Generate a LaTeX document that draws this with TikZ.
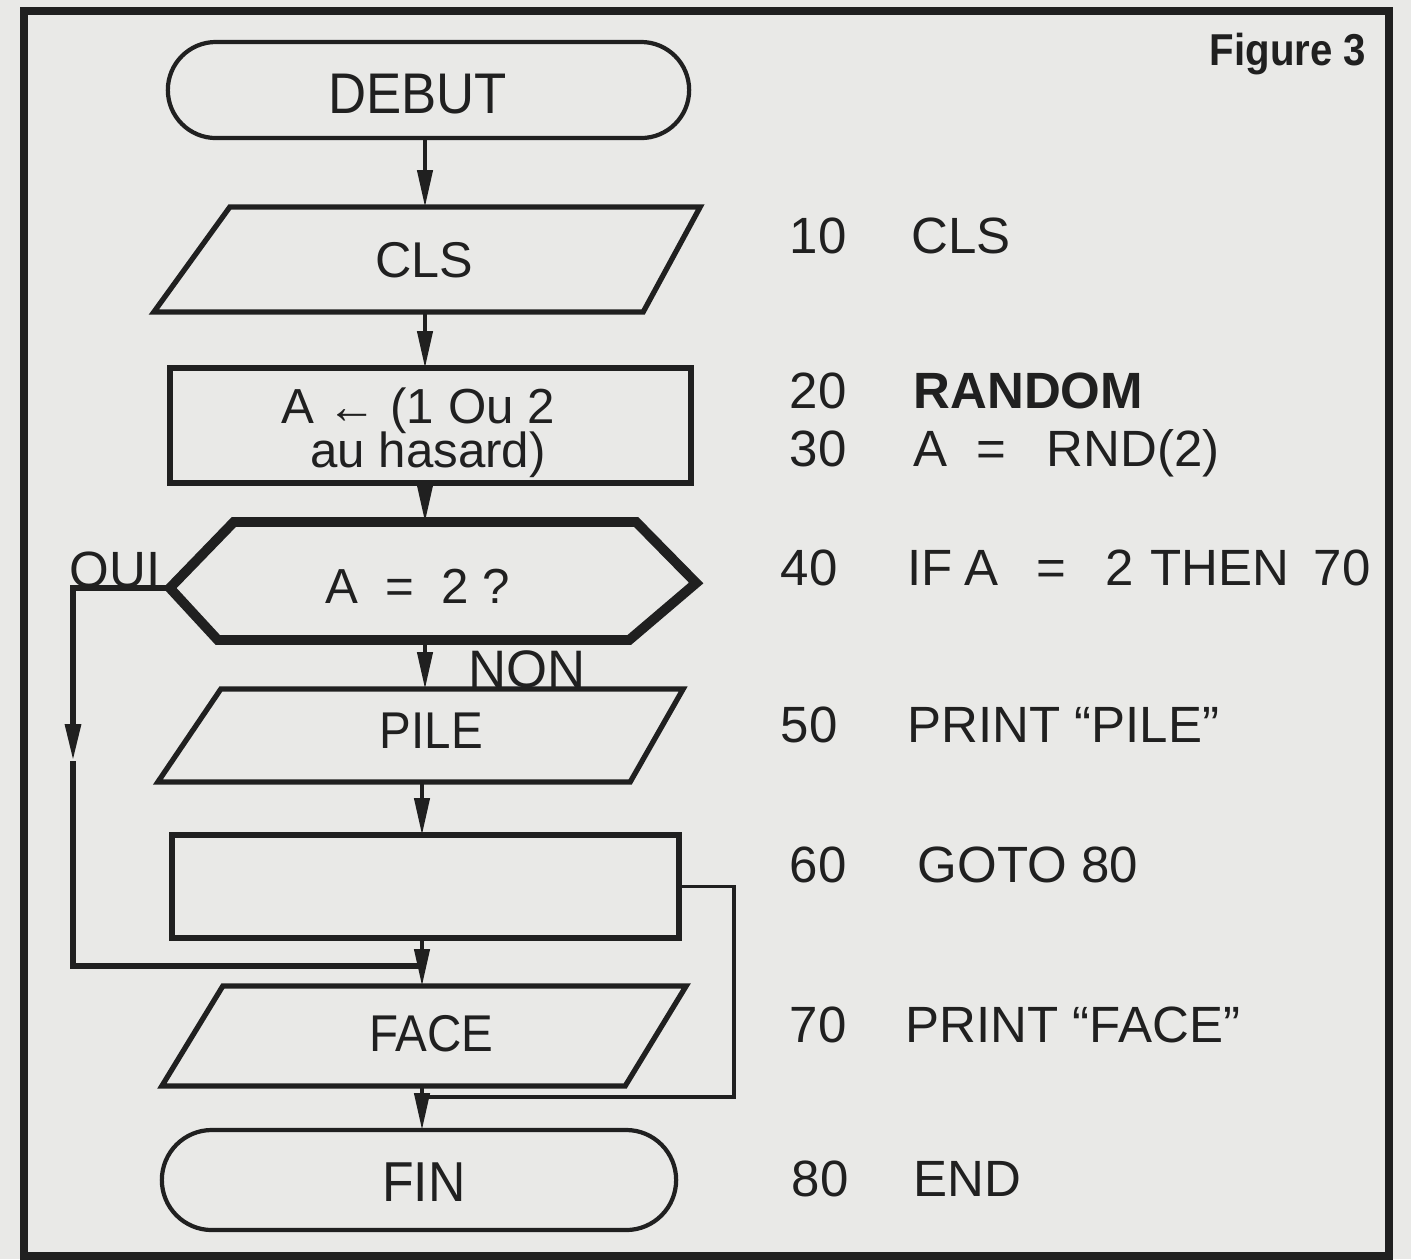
\documentclass[tikz,border=0pt]{standalone}
\usepackage{fontspec}
\setmainfont{Liberation Sans}
\newfontfamily\narrowfont{Liberation Sans}[FakeStretch=0.92]
\newfontfamily\figfont{Liberation Sans}[FakeStretch=0.9]
\usetikzlibrary{shapes.misc,arrows.meta,calc}
\definecolor{paper}{RGB}{233,233,231}
\definecolor{ink}{RGB}{32,32,32}
\begin{document}
\begin{tikzpicture}[x=0.01cm,y=-0.01cm,
  conn/.style={draw=ink,line width=1.1pt,line join=miter},
  ouiline/.style={line width=1.6pt},
  arrowend/.style={-{Triangle[length=10.5pt,width=4.3pt]}},
  slot/.style={rectangle,draw=none,inner sep=0pt,outer sep=0pt},
  term/.style={rounded rectangle,draw=ink,line width=1.2pt,inner sep=0pt,outer sep=0pt},
  procbox/.style={rectangle,draw=ink,line width=1.6pt,inner sep=0pt,outer sep=0pt},
  shapeline/.style={draw=ink,line width=1.5pt,line join=miter},
  fltxt/.style={anchor=base,inner sep=0pt,text=ink},
  codetxt/.style={anchor=base west,inner sep=0pt,text=ink,font=\fontsize{14.5}{17}\selectfont},
]
\fill[paper] (0,0) rectangle (1411,1259);
\useasboundingbox (0,0) rectangle (1411,1259);
\draw[ink,line width=2.3pt] (24,11) rectangle (1389,1256);

\node[fltxt,anchor=base east,font=\figfont\bfseries\fontsize{12.7}{15}\selectfont] (fig) at (1367,65) {Figure 3};

\coordinate (cx1) at (425,0);
\coordinate (cx2) at (422,0);

% DEBUT
\node[term,minimum width=5.21cm,minimum height=0.96cm] (debut) at (428.5,90) {};
\node[fltxt,font=\narrowfont\fontsize{16.3}{19}\selectfont] (tdebut) at (417.5,113) {DEBUT};

% CLS
\node[slot,minimum width=5.46cm,minimum height=1.05cm] (cls) at (427,259.5) {};
\draw[shapeline] ($(cls.north west)+(76,0)$) -- (cls.north east) -- ($(cls.south east)+(-57,0)$) -- (cls.south west) -- cycle;
\node[fltxt,font=\fontsize{14.3}{17}\selectfont] (tcls) at (424.5,277) {CLS};

% assignment
\node[procbox,minimum width=5.21cm,minimum height=1.15cm] (assign) at (430.5,425.5) {};
\node[fltxt,font=\fontsize{14}{17}\selectfont] (tassign1) at (418,423) {A\ ←\ (1\ Ou\ 2};
\node[fltxt,font=\fontsize{14}{17}\selectfont] (tassign2) at (428,467) {au hasard)};

% decision
\node[slot,minimum width=5.26cm,minimum height=1.18cm] (dec) at (433,581) {};
\coordinate (decL) at ($(dec.west)+(0,7)$);
\draw[shapeline,line width=2.8pt] ($(dec.north west)+(64,0)$) -- ($(dec.north east)+(-60,0)$) -- ($(dec.east)+(0,2)$) -- ($(dec.south east)+(-67,0)$) -- ($(dec.south west)+(48,0)$) -- (decL) -- cycle;
\node[fltxt,font=\fontsize{14}{17}\selectfont] (tdec) at (417.5,603) {A\ \ =\ \ 2 ?};

\node[fltxt,anchor=base west,font=\fontsize{14.5}{17}\selectfont] (oui) at (69,587) {OUI};
\node[fltxt,anchor=base west,font=\fontsize{15}{18}\selectfont] (non) at (468,687) {NON};

% PILE
\node[slot,minimum width=5.25cm,minimum height=0.93cm] (pile) at (420.5,735.5) {};
\draw[shapeline] ($(pile.north west)+(63,0)$) -- (pile.north east) -- ($(pile.south east)+(-53,0)$) -- (pile.south west) -- cycle;
\node[fltxt,font=\narrowfont\fontsize{14.7}{17}\selectfont] (tpile) at (431.5,748) {PILE};

% empty box (GOTO)
\node[procbox,minimum width=5.07cm,minimum height=1.03cm] (goto) at (425.5,886.5) {};

% FACE
\node[slot,minimum width=5.24cm,minimum height=1.0cm] (face) at (424,1036) {};
\draw[shapeline] ($(face.north west)+(61,0)$) -- (face.north east) -- ($(face.south east)+(-61,0)$) -- (face.south west) -- cycle;
\node[fltxt,font=\narrowfont\fontsize{14.7}{17}\selectfont] (tface) at (431.5,1051) {FACE};

% FIN
\node[term,minimum width=5.14cm,minimum height=1.0cm] (fin) at (419,1180) {};
\node[fltxt,font=\narrowfont\fontsize{16}{19}\selectfont] (tfin) at (424,1201) {FIN};

% connectors
\draw[conn,arrowend] (debut.south -| cx1) -- (cls.north -| cx1);
\draw[conn,arrowend] (cls.south -| cx1) -- (assign.north -| cx1);
\draw[conn,arrowend] (assign.south -| cx1) -- (dec.north -| cx1);
\draw[conn,arrowend] (dec.south -| cx1) -- (pile.north -| cx1);
\draw[conn,arrowend] (pile.south -| cx2) -- (goto.north -| cx2);
\draw[conn,arrowend] (goto.south -| cx2) -- (face.north -| cx2);
\draw[conn,arrowend] (face.south -| cx2) -- (fin.north -| cx2);

% OUI branch
\coordinate (ouiX) at (73,0);
\coordinate (ouiY) at (0,966);
\coordinate (ouiMid) at (73,761);
\draw[conn,ouiline,arrowend] (decL) -- (decL -| ouiX) -- (ouiMid);
\draw[conn,ouiline] (ouiMid) -- (ouiX |- ouiY) -- (cx2 |- ouiY);

% GOTO branch
\coordinate (gotoX) at (734,0);
\coordinate (gotoY) at (0,1097);
\draw[conn] (goto.east) -- (goto.east -| gotoX) -- (gotoX |- gotoY) -- (cx2 |- gotoY);

% BASIC listing
\node[codetxt] (n10) at (789,253) {10};
\node[codetxt] (s10) at (911,253) {CLS};
\node[codetxt] (n20) at (789,408) {20};
\node[codetxt,font=\bfseries\fontsize{14.5}{17}\selectfont] (s20) at (913,408) {RANDOM};
\node[codetxt] (n30) at (789,466) {30};
\node[codetxt] (s30a) at (913,466) {A};
\node[codetxt] (s30b) at (976,466) {=};
\node[codetxt] (s30c) at (1046,466) {RND(2)};
\node[codetxt] (n40) at (780,585) {40};
\node[codetxt] (s40a) at (907,585) {IF};
\node[codetxt] (s40b) at (964,585) {A};
\node[codetxt] (s40c) at (1036,585) {=};
\node[codetxt] (s40d) at (1105,585) {2};
\node[codetxt] (s40e) at (1150,585) {THEN};
\node[codetxt] (s40f) at (1313,585) {70};
\node[codetxt] (n50) at (780,742) {50};
\node[codetxt] (s50) at (907,742) {PRINT ``PILE''};
\node[codetxt] (n60) at (789,882) {60};
\node[codetxt] (s60) at (917,882) {GOTO 80};
\node[codetxt] (n70) at (789,1042) {70};
\node[codetxt] (s70) at (905,1042) {PRINT ``FACE''};
\node[codetxt] (n80) at (791,1196) {80};
\node[codetxt] (s80) at (913,1196) {END};
\end{tikzpicture}
\end{document}
